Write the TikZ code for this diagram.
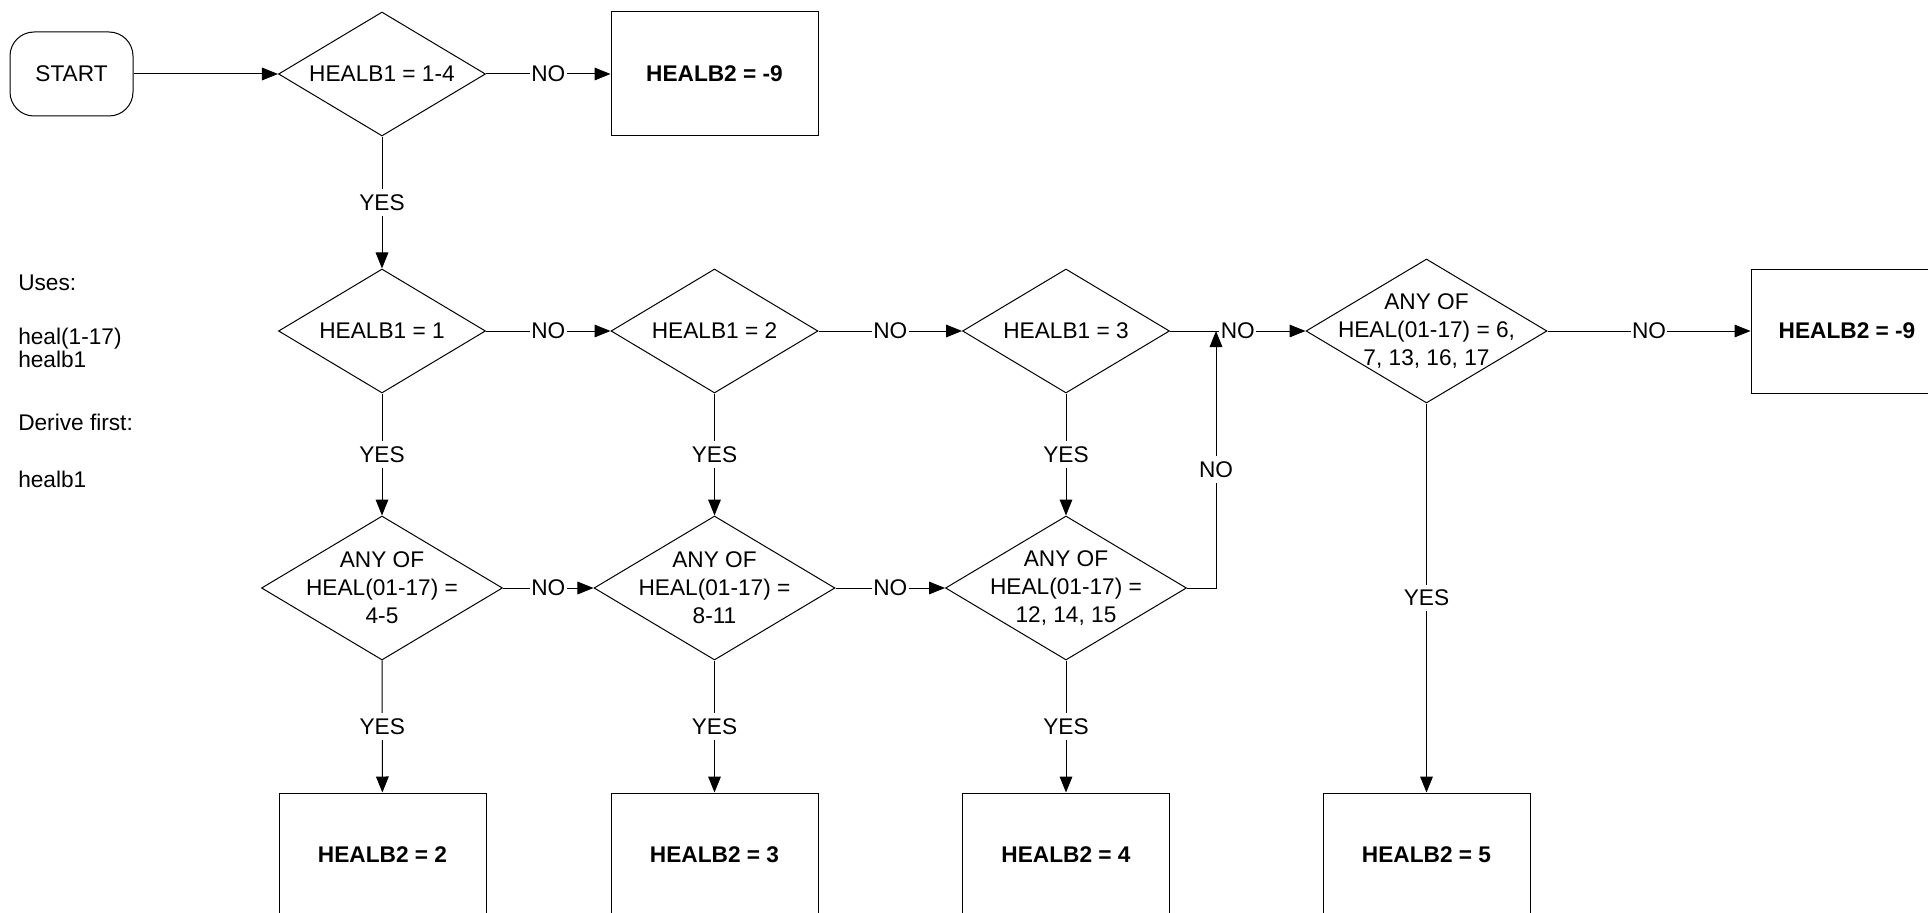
\documentclass[tikz,border=0pt]{standalone}
\usepackage{fontspec}
\setmainfont{Liberation Sans}
\usetikzlibrary{shapes.geometric,arrows.meta}
\begin{document}
\begin{tikzpicture}[x=0.75pt,y=-0.75pt,
  every node/.style={font=\fontsize{17}{21}\selectfont},
  base/.style={draw, line width=0.75pt},
  startbox/.style={base, rectangle, rounded corners=18pt, minimum width=92.25pt, minimum height=63pt},
  outbox/.style={base, rectangle, minimum width=155.25pt, minimum height=93pt, font=\fontsize{17}{21}\selectfont\bfseries},
  dia/.style={base, diamond, inner sep=0pt, minimum width=155.25pt, minimum height=93pt},
  bigdia/.style={dia, minimum width=180.75pt, minimum height=108pt},
  lbl/.style={fill=white, inner xsep=1pt, inner ysep=4pt},
  conn/.style={line width=0.75pt, -{Triangle[length=12pt,width=9.5pt]}},
  note/.style={anchor=base west, inner sep=0pt}
]
\useasboundingbox (0,0) rectangle (1928,913);

% left notes
\node[note] (n1) at (18,290) {Uses:};
\node[note] (n2) at (18,344) {heal(1-17)};
\node[note] (n3) at (18,367) {healb1};
\node[note] (n4) at (18,430) {Derive first:};
\node[note] (n5) at (18,487) {healb1};

% nodes
\node[startbox] (start) at (71.5,74) {START};
\node[dia, label={[align=center]center:{HEALB1 = 1-4}}] (d1) at (382,74) {};
\node[outbox] (b1) at (714.5,74) {HEALB2 = -9};

\node[dia, label={[align=center]center:{HEALB1 = 1}}] (d2) at (382,331) {};
\node[dia, label={[align=center]center:{HEALB1 = 2}}] (d3) at (714.5,331) {};
\node[dia, label={[align=center]center:{HEALB1 = 3}}] (d4) at (1066,331) {};
\node[bigdia, label={[align=center]center:{ANY OF\\HEAL(01-17) = 6,\\7, 13, 16, 17}}] (d5) at (1426.5,331) {};
\node[outbox, minimum width=144pt] (b2) at (1847,331) {HEALB2 = -9};
\coordinate (j) at (1216,331);

\node[bigdia, label={[align=center]center:{ANY OF\\HEAL(01-17) =\\4-5}}] (d6) at (382,588) {};
\node[bigdia, label={[align=center]center:{ANY OF\\HEAL(01-17) =\\8-11}}] (d7) at (714.5,588) {};
\node[bigdia, label={[align=center]center:{ANY OF\\HEAL(01-17) =\\12, 14, 15}}] (d8) at (1066,588) {};

\node[outbox] (b3) at (382.5,855) {HEALB2 = 2};
\node[outbox] (b4) at (714.5,855) {HEALB2 = 3};
\node[outbox] (b5) at (1066,855) {HEALB2 = 4};
\node[outbox] (b6) at (1426.5,855) {HEALB2 = 5};

% connectors
\draw[conn] (start) -- (d1);
\draw[conn] (d1) -- node[lbl]{NO} (b1);
\draw[conn] (d1) -- node[lbl]{YES} (d2);
\draw[conn] (d2) -- node[lbl]{NO} (d3);
\draw[conn] (d3) -- node[lbl]{NO} (d4);
\draw[conn] (d4) -- node[lbl]{NO} (d5);
\draw[conn] (d5) -- node[lbl]{NO} (b2);
\draw[conn] (d2) -- node[lbl]{YES} (d6);
\draw[conn] (d3) -- node[lbl]{YES} (d7);
\draw[conn] (d4) -- node[lbl]{YES} (d8);
\draw[conn] (d5) -- node[lbl]{YES} (b6);
\draw[conn] (d6) -- node[lbl]{NO} (d7);
\draw[conn] (d7) -- node[lbl]{NO} (d8);
\draw[conn] (d6) -- node[lbl]{YES} (b3);
\draw[conn] (d7) -- node[lbl]{YES} (b4);
\draw[conn] (d8) -- node[lbl]{YES} (b5);
\draw[conn] (d8.east) -| node[lbl,pos=0.73]{NO} (j);
\end{tikzpicture}
\end{document}
